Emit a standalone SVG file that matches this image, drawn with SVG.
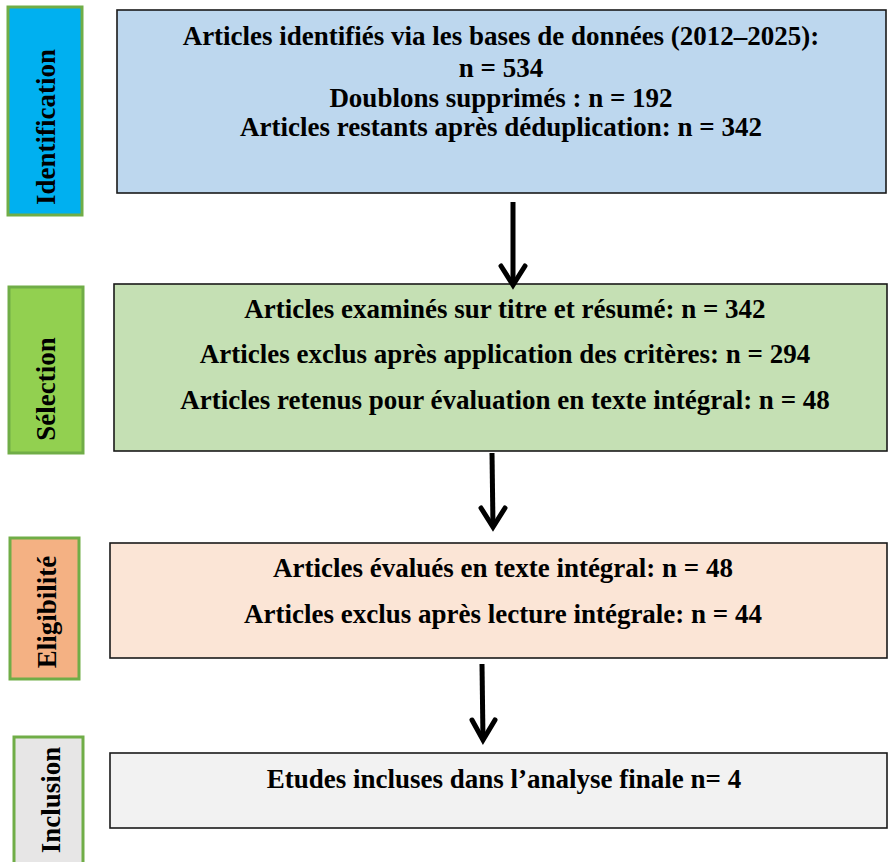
<svg xmlns="http://www.w3.org/2000/svg" width="889" height="862" viewBox="0 0 889 862">
<style>
.lbl{stroke:#70ad47;stroke-width:3}
.box{stroke:#1a1a1a;stroke-width:1.6}
text{font-family:"Liberation Serif","Times New Roman",serif;font-weight:bold;font-size:27px;fill:#000;text-anchor:middle}
.arr{stroke:#000;stroke-width:5;fill:none;stroke-linecap:butt}
.head{stroke:#000;stroke-width:5;fill:none;stroke-linejoin:miter;stroke-linecap:round}
</style>
<rect width="889" height="862" fill="#fff"/>
<g id="label-identification">
<rect class="lbl" x="8" y="7" width="74" height="208" fill="#00b0f0"/>
<text transform="translate(55,127) rotate(-90)">Identification</text>
</g>
<g id="label-selection">
<rect class="lbl" x="9" y="287" width="74" height="166" fill="#92d050"/>
<text transform="translate(55,389) rotate(-90)">Sélection</text>
</g>
<g id="label-eligibilite">
<rect class="lbl" x="10" y="538" width="69" height="141" fill="#f4b183"/>
<text transform="translate(56,612) rotate(-90)">Eligibilité</text>
</g>
<g id="label-inclusion">
<rect class="lbl" x="14" y="737" width="69" height="135" fill="#e7e6e6"/>
<text transform="translate(60,800) rotate(-90)">Inclusion</text>
</g>
<g id="box-identification">
<rect class="box" x="117" y="10" width="769" height="183" fill="#bdd7ee"/>
<text x="501" y="45">Articles identifiés via les bases de données (2012–2025):</text>
<text x="501" y="77">n = 534</text>
<text x="501" y="107">Doublons supprimés : n = 192</text>
<text x="501" y="136">Articles restants après déduplication: n = 342</text>
</g>
<g id="box-selection">
<rect class="box" x="114" y="284" width="773" height="167" fill="#c5e0b4"/>
<text x="505" y="318">Articles examinés sur titre et résumé: n = 342</text>
<text x="505" y="363">Articles exclus après application des critères: n = 294</text>
<text x="505" y="409">Articles retenus pour évaluation en texte intégral: n = 48</text>
</g>
<g id="box-eligibilite">
<rect class="box" x="110" y="543" width="777" height="115" fill="#fbe5d6"/>
<text x="503" y="577">Articles évalués en texte intégral: n = 48</text>
<text x="503" y="623">Articles exclus après lecture intégrale: n = 44</text>
</g>
<g id="box-inclusion">
<rect class="box" x="110" y="753" width="777" height="75" fill="#f2f2f2"/>
<text x="504" y="788">Etudes incluses dans l’analyse finale n= 4</text>
</g>
<g id="connectors">
<line class="arr" x1="513" y1="202" x2="513" y2="285"/>
<polyline class="head" points="501,266 513,285 525,266"/>
<line class="arr" x1="492" y1="453" x2="493" y2="527"/>
<polyline class="head" points="481,508 493,527 505,508"/>
<line class="arr" x1="482" y1="664" x2="483" y2="740"/>
<polyline class="head" points="472,720 483,740 495,720"/>
</g>
</svg>
